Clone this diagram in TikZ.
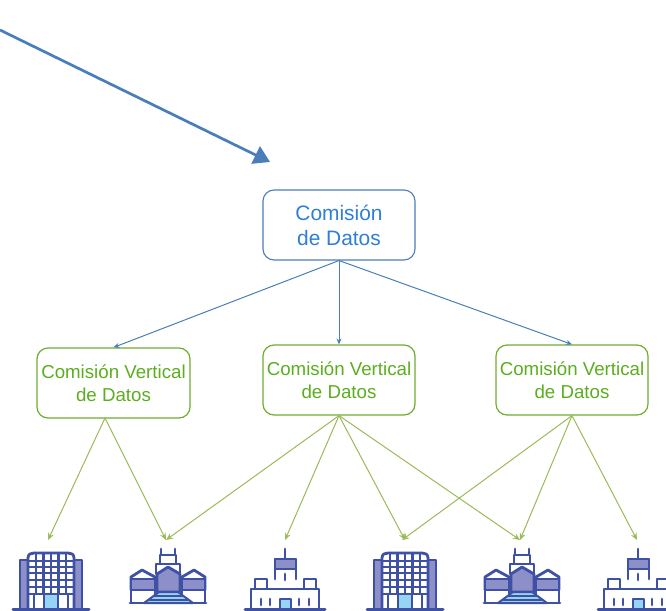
\documentclass[tikz,border=0pt]{standalone}
\usepackage{fontspec}
\setmainfont{Liberation Sans}
\usetikzlibrary{arrows.meta}
\definecolor{bluetxt}{HTML}{2F7ED8}
\definecolor{blueln}{HTML}{4A7EBB}
\definecolor{greentxt}{HTML}{5BAE1E}
\definecolor{greenbox}{HTML}{70AD2F}
\definecolor{greenln}{HTML}{9BBB59}
\definecolor{bldg}{HTML}{3F51A5}
\definecolor{bldgfill}{HTML}{8C8FC8}
\definecolor{bldgdoor}{HTML}{96D4F5}
\tikzset{
 x=1pt,y=-1pt,
 boxbase/.style={rounded corners=11pt,minimum width=152pt,minimum height=70pt,align=center,inner sep=0pt,fill=white},
 topbox/.style={boxbase,draw=blueln,line width=1.1pt,text=bluetxt,font=\fontsize{20.9pt}{25pt}\selectfont},
 vertbox/.style={boxbase,draw=greenbox,line width=1.2pt,text=greentxt,font=\fontsize{18.7pt}{22.5pt}\selectfont},
 bluelink/.style={draw=blueln,line width=1pt,-{Stealth[length=6pt,width=5pt]}},
 greenlink/.style={draw=greenln,line width=1pt,-{Stealth[length=7pt,width=6pt]}},
 bigarrow/.style={draw=blueln,line width=2.7pt,-{Triangle[length=16pt,width=19pt]}},
 bl/.style={draw=bldg,line width=2.8pt,line join=round,line cap=round},
 bf/.style={bl,fill=bldgfill},
 bd/.style={bl,fill=bldgdoor},
 tower/.pic={
  \path[bf] (0,7) rectangle (8,56);
  \path[bf] (54,7) rectangle (62,56);
  \path[bl,fill=white] (8,56) -- (8,5) .. controls (8,1) and (11,0) .. (14,0) -- (48,0) .. controls (51,0) and (54,1) .. (54,5) -- (54,56);
  \foreach \xx in {16,23.5,31,38.5,46} \draw[bl,line width=2.4pt] (\xx,0) -- (\xx,41);
  \foreach \yy in {8,14,20,27,34,41} \draw[bl,line width=2.4pt] (8,\yy) -- (54,\yy);
  \draw[bl,line width=2.2pt] (14,41) -- (14,56);
  \draw[bl,line width=2.2pt] (48,41) -- (48,56);
  \path[bd,line width=2.2pt] (24,41) rectangle (38,56);
  \draw[bl,line width=3pt] (-7,56) -- (69,56);
 },
 palacex/.pic={
  \draw[bl] (30,6) -- (30,0);
  \draw[bl] (44,6) -- (44,0);
  \path[bl,fill=white] (29,6) rectangle (45,15);
  \path[bl,fill=white] (25,15) rectangle (49,25);
  \path[bl,fill=white] (0,28) -- (11,21) -- (24,28) -- (24,41) -- (0,41) -- cycle;
  \path[bf] (0,30) rectangle (24,41);
  \path[bl,fill=white] (51,28) -- (63,21) -- (74,28) -- (74,41) -- (51,41) -- cycle;
  \path[bf] (51,30) rectangle (74,41);
  \path[bl,fill=white] (0,41) rectangle (24,54);
  \path[bl,fill=white] (51,41) rectangle (74,54);
  \path[bf] (26,25) -- (37,18) -- (49,25) -- (49,43) -- (26,43) -- cycle;
  \path[bd,line width=2pt] (28,43) -- (47,43) -- (62,54) -- (13,54) -- cycle;
  \draw[bl,line width=1.4pt] (23,47) -- (52,47);
  \draw[bl,line width=1.4pt] (18,51) -- (57,51);
  \draw[bl,line width=2.8pt] (-1,54) -- (75,54);
 },
 castle/.pic={
  \draw[bl] (40,0) -- (40,10);
  \path[bl,fill=white] (30,30) -- (30,10) -- (51,10) -- (51,30);
  \path[bf] (30,10) rectangle (51,20);
  \draw[bl] (40,25) -- (40,31);
  \path[bl,fill=white] (10,30) rectangle (22,40);
  \path[bl,fill=white] (59,30) rectangle (71,40);
  \path[bl,fill=white] (6,60) -- (6,40) -- (74,40) -- (74,60);
  \foreach \xx in {16,25,54,64} \draw[bl] (\xx,50) -- (\xx,56);
  \path[bd] (35,50) rectangle (46,60);
  \draw[bl,line width=3pt] (0,60) -- (80,60);
 }
}
\begin{document}
\begin{tikzpicture}
\useasboundingbox (0,0) rectangle (666,610);
\clip (0,0) rectangle (666,610);
\coordinate (src) at (0,30);
\coordinate (dst) at (270,162);
\draw[bigarrow] (src) -- (dst);

\node[topbox] (cd) at (339,225) {Comisión\\de Datos};
\node[vertbox,minimum width=153pt] (v1) at (113.5,383) {Comisión Vertical\\de Datos};
\node[vertbox] (v2) at (339,380) {Comisión Vertical\\de Datos};
\node[vertbox] (v3) at (572,380) {Comisión Vertical\\de Datos};

\draw[bluelink] (cd.south) -- (v1.north);
\draw[bluelink] (cd.south) -- (v2.north);
\draw[bluelink] (cd.south) -- (v3.north);

\coordinate (v1s) at (105,418);
\coordinate (t1) at (48,540);
\coordinate (t2) at (166,540);
\coordinate (t3) at (285,540);
\coordinate (t4) at (405,540);
\coordinate (t4b) at (402,540);
\coordinate (t5) at (520,540);
\coordinate (t6) at (637,540);

\draw[greenlink] (v1s) -- (t1);
\draw[greenlink] (v1s) -- (t2);
\draw[greenlink] (v2.south) -- (t2);
\draw[greenlink] (v2.south) -- (t3);
\draw[greenlink] (v2.south) -- (t4);
\draw[greenlink] (v2.south) -- (t5);
\draw[greenlink] (v3.south) -- (t4b);
\draw[greenlink] (v3.south) -- (t5);
\draw[greenlink] (v3.south) -- (t6);

\pic at (20,553) {tower};
\pic at (374,553) {tower};
\pic at (131,549) {palacex};
\pic at (485,549) {palacex};
\pic at (245,549) {castle};
\pic at (598,549) {castle};
\end{tikzpicture}
\end{document}
